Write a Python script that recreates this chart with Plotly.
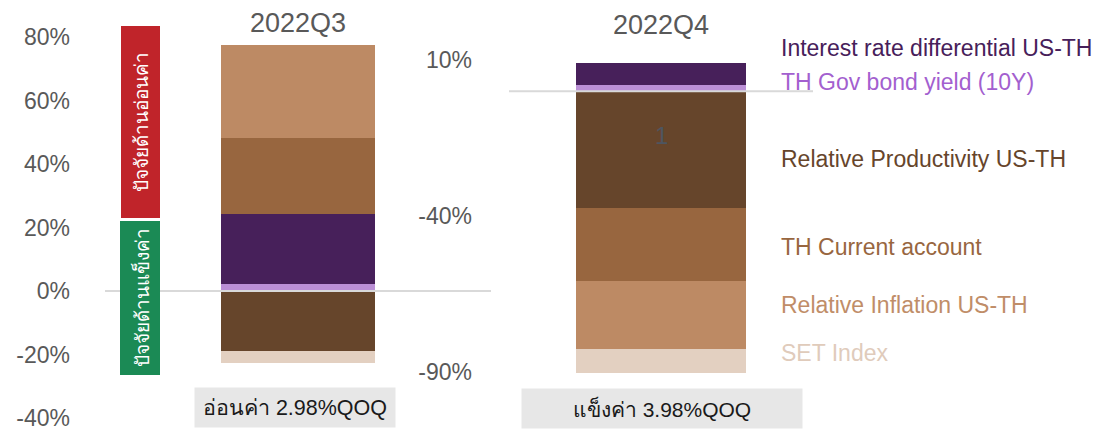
import plotly.graph_objects as go

# ---------------- data ----------------
series = [
    "TH Gov bond yield (10Y)",
    "Interest rate differential US-TH",
    "Relative Productivity US-TH",
    "TH Current account",
    "Relative Inflation US-TH",
    "SET Index",
]
q3_values = [2.3, 21.9, -18.9, 23.9, 29.3, -3.8]
q4_values = [2.0, 7.0, -37.4, -23.4, -21.8, -7.7]
bar_colors = ["#bb8fd6", "#47205a", "#66452b", "#98663f", "#bd8a64", "#e3d0c1"]
label_colors = ["#a35fcf", "#47205a", "#66452b", "#98663f", "#c08d68", "#e0cbbb"]

left_ticks = [-40, -20, 0, 20, 40, 60, 80]
left_ticktext = ["-40%", "-20%", "0%", "20%", "40%", "60%", "80%"]
right_ticks = [-90, -40, 10]
right_ticktext = ["-90%", "-40%", "10%"]

periods = ["2022Q3", "2022Q4"]
summary = ["อ่อนค่า 2.98%QOQ", "แข็งค่า 3.98%QOQ"]
side_labels = ["ปัจจัยด้านอ่อนค่า", "ปัจจัยด้านแข็งค่า"]

W, H = 1102, 434
FONT = "Liberation Sans, Arial, sans-serif"
GREY = "#595959"


def px(x):
    return x / W


def py(y):
    return 1 - y / H


fig = go.Figure()
for name, v3, v4, c in zip(series, q3_values, q4_values, bar_colors):
    fig.add_trace(go.Bar(x=[periods[0]], y=[v3], name=name, marker=dict(color=c, line=dict(width=0)),
                         width=0.40, xaxis="x", yaxis="y", showlegend=False, hoverinfo="skip"))
    fig.add_trace(go.Bar(x=[periods[1]], y=[v4], name=name, marker=dict(color=c, line=dict(width=0)),
                         width=0.557, xaxis="x2", yaxis="y2", showlegend=False, hoverinfo="skip"))

ydom = [py(418), py(37)]
fig.update_layout(
    template="none",
    width=W, height=H,
    margin=dict(l=0, r=0, t=0, b=0, pad=0, autoexpand=False),
    paper_bgcolor="white", plot_bgcolor="white",
    barmode="relative", bargap=0,
    font=dict(family=FONT, color=GREY),
    xaxis=dict(domain=[px(105), px(491)], range=[-0.5, 0.5], visible=False, anchor="y", automargin=False),
    xaxis2=dict(domain=[px(509), px(813)], range=[-0.5, 0.5], visible=False, anchor="y2", automargin=False),
    yaxis=dict(domain=ydom, range=[-40, 80], tickvals=left_ticks, ticktext=left_ticktext,
               showgrid=False, zeroline=False, showline=False, ticks="", automargin=False,
               ticklabelstandoff=34, tickfont=dict(size=23, color=GREY, family=FONT), anchor="x"),
    yaxis2=dict(domain=ydom, range=[-104.7, 17.4], tickvals=right_ticks, ticktext=right_ticktext,
                showgrid=False, zeroline=False, showline=False, ticks="", automargin=False,
                ticklabelstandoff=36, tickfont=dict(size=23, color=GREY, family=FONT), anchor="x2"),
)

# zero lines (drawn above the bars as in the reference)
fig.add_shape(type="line", xref="x domain", yref="y", x0=0, x1=1, y0=0, y1=0,
              line=dict(color="#d9d9d9", width=2), layer="above")
fig.add_shape(type="line", xref="x2 domain", yref="y2", x0=0, x1=1, y0=0, y1=0,
              line=dict(color="#d9d9d9", width=2), layer="above")

# period titles
fig.add_annotation(text=periods[0], xref="x", yref="paper", x=0, y=py(23), showarrow=False,
                   xanchor="center", yanchor="middle", font=dict(size=27, color=GREY, family=FONT))
fig.add_annotation(text=periods[1], xref="x2", yref="paper", x=0, y=py(25), showarrow=False,
                   xanchor="center", yanchor="middle", font=dict(size=27, color=GREY, family=FONT))

# stray label inside Q4 bar
fig.add_annotation(text="1", xref="x2", yref="y2", x=0, y=-14.2, showarrow=False,
                   xanchor="center", yanchor="middle", font=dict(size=24, color="#4e5560", family=FONT))

# side boxes with vertical Thai text (drawn over the zero line)
fig.add_shape(type="rect", xref="paper", yref="paper", x0=px(121), x1=px(160), y0=py(218), y1=py(26),
              fillcolor="#c0242a", line=dict(width=0), layer="above")
fig.add_shape(type="rect", xref="paper", yref="paper", x0=px(120), x1=px(160), y0=py(375), y1=py(221),
              fillcolor="#1b8a55", line=dict(width=0), layer="above")
fig.add_annotation(text=side_labels[0], xref="paper", yref="paper", x=px(141), y=py(122), textangle=-90,
                   xanchor="center", yanchor="middle",
                   showarrow=False, font=dict(size=19, color="white", family=FONT))
fig.add_annotation(text=side_labels[1], xref="paper", yref="paper", x=px(141), y=py(297.5), textangle=-90,
                   xanchor="center", yanchor="middle",
                   showarrow=False, font=dict(size=19, color="white", family=FONT))

# summary boxes
fig.add_annotation(text=summary[0], xref="paper", yref="paper", x=px(295), y=py(407.5), showarrow=False,
                   xanchor="center", yanchor="middle",
                   bgcolor="#e7e7e7", width=200, height=39, borderpad=0,
                   font=dict(size=21.5, color="#1a1a1a", family=FONT))
fig.add_annotation(text=summary[1], xref="paper", yref="paper", x=px(662), y=py(408.5), showarrow=False,
                   xanchor="center", yanchor="middle",
                   bgcolor="#e7e7e7", width=280, height=39, borderpad=0,
                   font=dict(size=21, color="#1a1a1a", family=FONT))

# legend-like labels to the right of the Q4 bar
label_y = {
    "Interest rate differential US-TH": 48,
    "TH Gov bond yield (10Y)": 81.7,
    "Relative Productivity US-TH": 159,
    "TH Current account": 246.7,
    "Relative Inflation US-TH": 305,
    "SET Index": 353,
}
for name, col in zip(series, label_colors):
    fig.add_annotation(text=name, xref="paper", yref="paper", x=px(779), y=py(label_y[name]),
                       xanchor="left", yanchor="middle", showarrow=False,
                       font=dict(size=23, color=col, family=FONT))

fig.write_html("out.html")
